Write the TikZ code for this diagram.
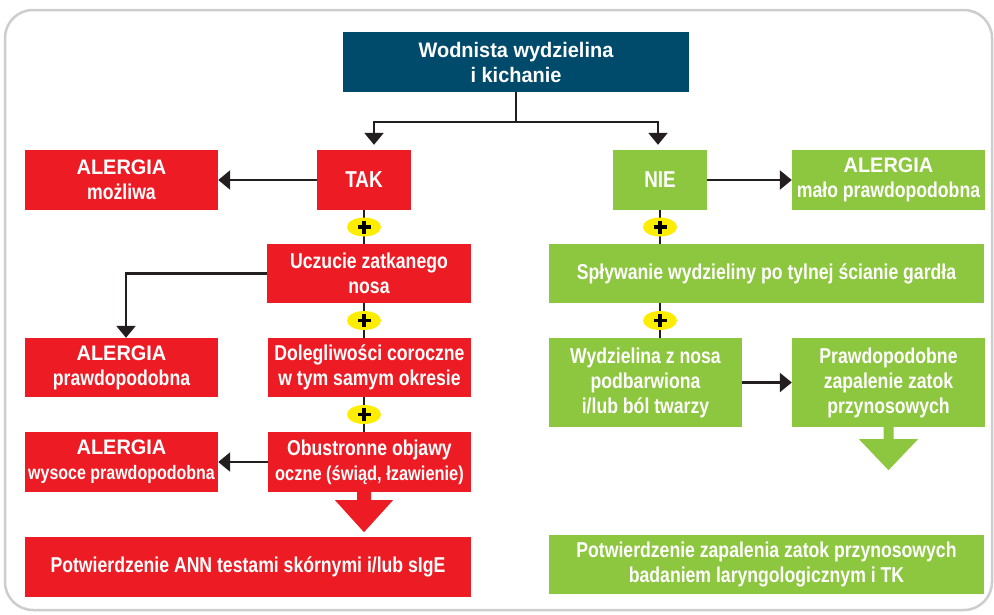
\documentclass[tikz,border=0pt]{standalone}
\usepackage{fontspec}
\setmainfont{Liberation Sans}[FakeStretch=0.82]
\newfontfamily\widefont{Liberation Sans}[FakeStretch=0.95]
\usetikzlibrary{arrows.meta,shapes.geometric}
\definecolor{redc}{HTML}{ED1C24}
\definecolor{greenc}{HTML}{8DC63F}
\definecolor{bluec}{HTML}{004B6B}
\definecolor{yellowc}{HTML}{FFED00}
\definecolor{linec}{HTML}{231F20}
\definecolor{framec}{HTML}{CDCDCD}
\tikzset{
  box/.style={inner sep=0pt, align=center, text=white, font=\bfseries\fontsize{21.5}{25}\selectfont},
  redbox/.style={box, fill=redc},
  greenbox/.style={box, fill=greenc},
  bluebox/.style={box, fill=bluec, font=\bfseries\widefont\fontsize{21}{25}\selectfont},
  conn/.style={line width=2.5pt, draw=linec},
  arr/.style={conn, -{Triangle[width=19pt,length=12pt]}},
  plusell/.style={ellipse, fill=yellowc, minimum width=34pt, minimum height=19pt, inner sep=0pt},
  plusbar/.style={line width=3.5pt, draw=black},
  frame/.style={line width=2.5pt, draw=framec, rounded corners=28pt},
}
\newcommand\plusmark[1]{%
  \draw[plusbar] ([xshift=-6.5pt]#1.center) -- ([xshift=6.5pt]#1.center);
  \draw[plusbar] ([yshift=-6.5pt]#1.center) -- ([yshift=6.5pt]#1.center);}
\newcommand\alg{{\widefont\fontsize{21}{25}\selectfont ALERGIA}}
\begin{document}
\begin{tikzpicture}[x=1pt,y=-1pt]
\useasboundingbox (0,0) rectangle (994,614);
\draw[frame] (5,10) rectangle (992,610);

\node[bluebox, minimum width=346pt, minimum height=60pt] (top) at (516,62) {Wodnista wydzielina\\i kichanie};
\node[redbox, minimum width=193pt, minimum height=60pt] (am) at (121.5,180) {\alg\\możliwa};
\node[redbox, minimum width=94pt, minimum height=60pt, font=\bfseries\fontsize{23}{25}\selectfont] (tak) at (364,180) {TAK};
\node[greenbox, minimum width=94pt, minimum height=60pt, font=\bfseries\fontsize{23}{25}\selectfont] (nie) at (660,180) {NIE};
\node[greenbox, minimum width=193pt, minimum height=60pt] (amp) at (888.5,180) {\alg\\mało prawdopodobna};
\node[redbox, minimum width=204pt, minimum height=59pt] (ucz) at (369,273.5) {Uczucie zatkanego\\nosa};
\node[greenbox, minimum width=435pt, minimum height=59pt] (spl) at (766.5,273.5) {Spływanie wydzieliny po tylnej ścianie gardła};
\node[redbox, minimum width=193pt, minimum height=59pt] (ap) at (121.5,367.5) {\alg\\prawdopodobna};
\node[redbox, minimum width=203pt, minimum height=59pt] (dol) at (369.5,367.5) {Dolegliwości coroczne\\w tym samym okresie};
\node[greenbox, minimum width=193pt, minimum height=89pt] (wyd) at (645.5,382.5) {Wydzielina z nosa\\podbarwiona\\i/lub ból twarzy};
\node[greenbox, minimum width=193pt, minimum height=89pt] (pp) at (888.5,382.5) {Prawdopodobne\\zapalenie zatok\\przynosowych};
\node[redbox, minimum width=193pt, minimum height=60pt] (aw) at (121.5,462) {\alg\\{\fontsize{19.5}{25}\selectfont wysoce prawdopodobna}};
\node[redbox, minimum width=203pt, minimum height=60pt] (obu) at (369.5,462) {Obustronne objawy\\{\fontsize{20}{25}\selectfont oczne (świąd, łzawienie)}};
\node[redbox, minimum width=446pt, minimum height=60pt] (pa) at (248,567) {Potwierdzenie ANN testami skórnymi i/lub sIgE};
\node[greenbox, minimum width=435pt, minimum height=59pt] (pz) at (766.5,564.5) {Potwierdzenie zapalenia zatok przynosowych\\badaniem laryngologicznym i TK};

% top split
\coordinate (j) at ([yshift=-30pt]top.south);
\draw[conn] (top.south) -- (j);
\draw[arr, shorten >=5pt] (j) -| ([xshift=10pt]tak.north);
\draw[arr, shorten >=5pt] (j) -| ([xshift=-2pt]nie.north);

% side arrows
\draw[arr] (tak.west) -- (am.east);
\draw[arr] (nie.east) -- (amp.west);
\draw[arr] (ucz.west) -| ([xshift=4.5pt]ap.north);
\draw[arr] (obu.west) -- (aw.east);
\draw[arr] (wyd.east) -- (pp.west);

% plus chains
\draw[conn] (tak.south) -- (tak.south |- ucz.north) node[midway, plusell] (p1) {};
\draw[conn] (tak.south |- ucz.south) -- (tak.south |- dol.north) node[midway, plusell] (p2) {};
\draw[conn] (tak.south |- dol.south) -- (tak.south |- obu.north) node[midway, plusell] (p3) {};
\draw[conn] (nie.south) -- (nie.south |- spl.north) node[midway, plusell] (p4) {};
\draw[conn] (nie.south |- spl.south) -- (nie.south |- wyd.north) node[midway, plusell] (p5) {};
\plusmark{p1}\plusmark{p2}\plusmark{p3}\plusmark{p4}\plusmark{p5}

% big block arrows
\fill[redc] ([xshift=-7pt]obu.south -| tak.south) -- ++(14,0) -- ++(0,8) -- ++(22,0) -- ++(-29,32) -- ++(-29,-32) -- ++(22,0) -- cycle;
\fill[greenc] ([xshift=-5pt]pp.south) -- ++(10,0) -- ++(0,12) -- ++(24.5,0) -- ++(-29.5,31) -- ++(-29.5,-31) -- ++(24.5,0) -- cycle;
\end{tikzpicture}
\end{document}
